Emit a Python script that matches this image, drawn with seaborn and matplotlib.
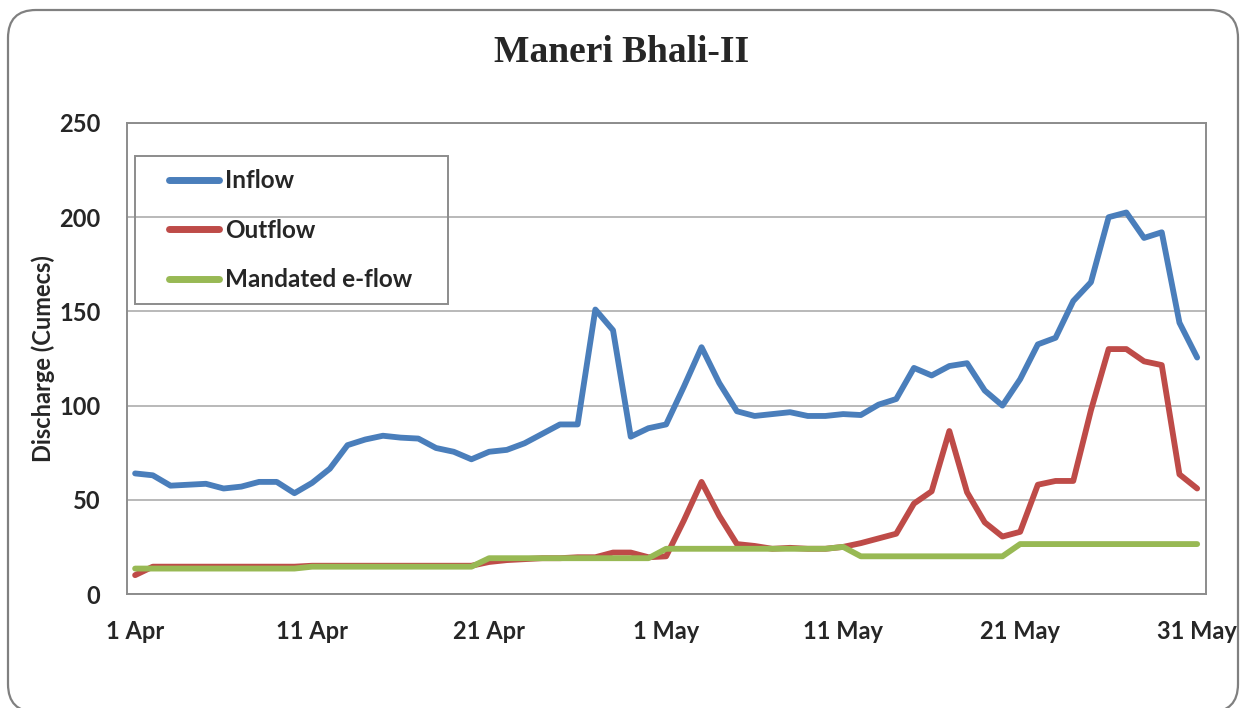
import pandas as pd
import matplotlib
matplotlib.use("Agg")
import matplotlib.pyplot as plt
import seaborn as sns
from matplotlib.patches import FancyBboxPatch, Rectangle

# Daily discharge, 1 Apr - 31 May
dates = pd.date_range("2013-04-01", "2013-05-31", freq="D")

inflow = [64, 63, 57.5, 58, 58.5, 56, 57, 59.5, 59.5, 53.5,
          59, 66.5, 79, 82, 84, 83, 82.5, 77.5, 75.5, 71.5,
          75.5, 76.5, 80, 85, 90, 90, 151, 140, 83.5, 88,
          90, 110, 131, 112, 97, 94.5, 95.5, 96.5, 94.5, 94.5,
          95.5, 95, 100.5, 103.5, 120, 116, 121, 122.5, 108, 100,
          114, 132.5, 136, 155.5, 165.5, 200, 202.5, 189, 192, 144,
          125.5]

outflow = [10, 14.5, 14.5, 14.5, 14.5, 14.5, 14.5, 14.5, 14.5, 14.5,
           15, 15, 15, 15, 15, 15, 15, 15, 15, 15,
           17, 18, 18.5, 19, 19, 19.5, 19.5, 22, 22, 19.5,
           20, 39, 59.5, 41.5, 26.5, 25.5, 24, 24.5, 24, 24,
           25, 27, 29.5, 32, 48, 54.5, 86.5, 54, 38, 30.5,
           33, 58, 60, 60, 97.5, 130, 130, 123.5, 121.5, 63.5,
           56]

eflow = [13.5, 13.5, 13.5, 13.5, 13.5, 13.5, 13.5, 13.5, 13.5, 13.5,
         14.5, 14.5, 14.5, 14.5, 14.5, 14.5, 14.5, 14.5, 14.5, 14.5,
         19, 19, 19, 19, 19, 19, 19, 19, 19, 19,
         24, 24, 24, 24, 24, 24, 24, 24, 24, 24,
         25, 20, 20, 20, 20, 20, 20, 20, 20, 20,
         26.5, 26.5, 26.5, 26.5, 26.5, 26.5, 26.5, 26.5, 26.5, 26.5,
         26.5]

series_names = ["Inflow", "Outflow", "Mandated e-flow"]
tick_labels = ["1 Apr", "11 Apr", "21 Apr", "1 May", "11 May", "21 May", "31 May"]
y_ticks = [0, 50, 100, 150, 200, 250]

df = pd.DataFrame({"Date": dates, "Inflow": inflow, "Outflow": outflow,
                   "Mandated e-flow": eflow})
long_df = df.melt(id_vars="Date", var_name="Series", value_name="Discharge")

sns.set_style("white")
plt.rcParams["font.family"] = ["Lato", "DejaVu Sans"]

palette = {"Inflow": "#4A7EBB", "Outflow": "#BE4B48", "Mandated e-flow": "#98B954"}
frame_grey = "#8C8C8C"

fig = plt.figure(figsize=(12.43, 7.08), dpi=100)
ax = fig.add_axes([127 / 1243, 1 - 594 / 708, (1206 - 127) / 1243, (594 - 123) / 708])

sns.lineplot(data=long_df, x="Date", y="Discharge", hue="Series", hue_order=series_names,
             palette=palette, linewidth=4.2, ax=ax, legend=True)

# axes limits and ticks
ax.set_ylim(0, 250)
ax.set_yticks(y_ticks)
ax.set_yticklabels([str(v) for v in y_ticks], fontsize=17, fontweight="bold")
ax.set_xticks(dates[::10])
ax.set_xticklabels(tick_labels, fontsize=17, fontweight="bold")
ax.set_xlim(dates[0] - pd.Timedelta(hours=11), dates[-1] + pd.Timedelta(hours=12))
ax.tick_params(axis="y", length=0, pad=19)
ax.tick_params(axis="x", length=0, pad=19)
ax.set_xlabel("")
ax.set_ylabel("Discharge (Cumecs)", fontsize=17, fontweight="bold", labelpad=3)

ax.grid(axis="y", color="#B3B3B3", linewidth=1.3)
ax.set_axisbelow(True)
for s in ax.spines.values():
    s.set_color(frame_grey)
    s.set_linewidth(1.4)

# legend entries without frame, box drawn separately (Excel style)
leg = ax.legend(loc="upper left", bbox_to_anchor=(0.0385, 0.9013), fontsize=17.5,
                frameon=False, handlelength=2.06, handletextpad=0.25,
                labelspacing=1.09, borderpad=0, borderaxespad=0)
for t in leg.get_texts():
    t.set_fontweight("bold")
for h in leg.get_lines():
    h.set_linewidth(5)
    h.set_solid_capstyle("round")

ax.add_patch(Rectangle(((135 - 127) / 1079, (594 - 304) / 471),
                       (448 - 135) / 1079, (304 - 156) / 471,
                       transform=ax.transAxes, facecolor="none",
                       edgecolor=frame_grey, linewidth=1.4, zorder=5))

fig.text(0.5, 1 - 53 / 708, "Maneri Bhali-II", ha="center", va="center",
         fontsize=27, fontweight="bold", family="Liberation Serif")

# rounded outer frame of the chart
frame = FancyBboxPatch((0.08, -0.04), 12.30, 7.02, boxstyle="round,pad=0,rounding_size=0.28",
                       transform=fig.dpi_scale_trans, facecolor="none",
                       edgecolor="#808080", linewidth=1.6, clip_on=False)
fig.patches.append(frame)

plt.savefig("out.png", dpi=100)
